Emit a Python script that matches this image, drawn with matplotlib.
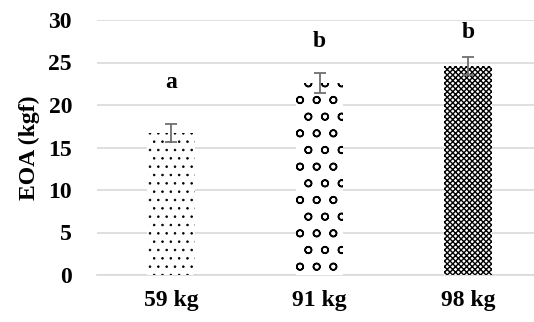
import numpy as np
import matplotlib.pyplot as plt

# EOA by body weight group
groups = ['59 kg', '91 kg', '98 kg']
eoa = [16.7, 22.6, 24.6]
eoa_err = [1.1, 1.15, 1.1]
letters = ['a', 'b', 'b']
letter_y = [22.7, 27.5, 28.5]
hatches = ['..', 'o', 'xxxxxx']
hatch_lw = [0.6, 1.1, 1.0]

plt.rcParams['font.family'] = ['Liberation Serif', 'DejaVu Serif']
plt.rcParams['font.weight'] = 'bold'

fig = plt.figure(figsize=(5.34, 3.22), dpi=100)
ax = fig.add_axes([97 / 534, 47 / 322, 445 / 534, 255 / 322])

x = np.arange(len(groups))
for xi, v, h, lw in zip(x, eoa, hatches, hatch_lw):
    with plt.rc_context({'hatch.linewidth': lw}):
        ax.bar(xi, v, width=0.32, color='white', edgecolor='black', linewidth=0,
               hatch=h, zorder=3)

ax.errorbar(x, eoa, yerr=eoa_err, fmt='none', ecolor='#707070', elinewidth=1.3,
            capsize=4, capthick=1.3, zorder=4)

for xi, ly, t in zip(x, letter_y, letters):
    ax.text(xi, ly, t, ha='center', va='center', fontsize=17, fontweight='bold')

ax.set_xlim(-0.5, 2.5)
ax.set_ylim(0, 30)
ax.set_yticks(np.arange(0, 31, 5))
ax.set_xticks(x)
ax.set_xticklabels(groups)
ax.set_ylabel('EOA (kgf)', fontsize=17, fontweight='bold', labelpad=6)
ax.tick_params(axis='both', length=0, labelsize=17)
ax.tick_params(axis='y', pad=18)
ax.tick_params(axis='x', pad=11)

ax.grid(axis='y', color='#d9d9d9', linewidth=1.2, zorder=0)
for s in ['top', 'right', 'left']:
    ax.spines[s].set_visible(False)
ax.spines['bottom'].set_color('#d9d9d9')
ax.spines['bottom'].set_linewidth(1.2)

fig.savefig('out.png', dpi=100)
